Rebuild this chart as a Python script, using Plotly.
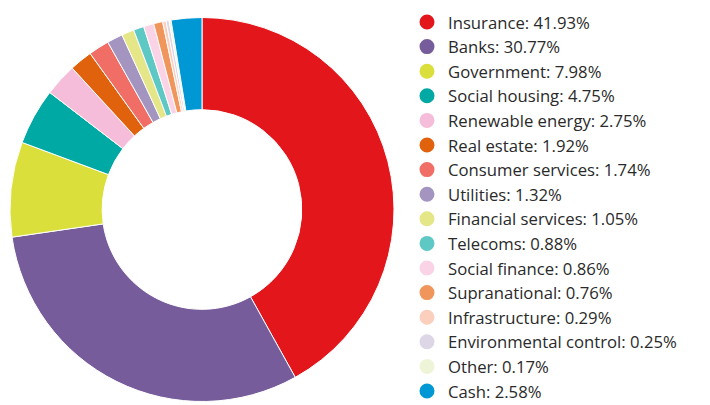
import plotly.graph_objects as go

categories = ["Insurance", "Banks", "Government", "Social housing", "Renewable energy",
              "Real estate", "Consumer services", "Utilities", "Financial services",
              "Telecoms", "Social finance", "Supranational", "Infrastructure",
              "Environmental control", "Other", "Cash"]
values = [41.93, 30.77, 7.98, 4.75, 2.75, 1.92, 1.74, 1.32, 1.05, 0.88, 0.86, 0.76,
          0.29, 0.25, 0.17, 2.58]
colors = ["#e3171b", "#765c9a", "#dadf3c", "#00a9a4", "#f5bdd9", "#e0620d", "#f06e66",
          "#a394c0", "#e4e687", "#5ec8c4", "#fad3e6", "#f0965c", "#fbcfbd", "#dcd6e7",
          "#eef4d8", "#0098d4"]

W, H = 710, 405
fig = go.Figure()
fig.add_trace(go.Pie(
    labels=categories, values=values, sort=False, direction="clockwise", rotation=0,
    hole=0.52, textinfo="none", showlegend=False,
    marker=dict(colors=colors, line=dict(color="white", width=1)),
    domain=dict(x=[10/W, 394/W], y=[3/H, 388/H]),
))

# legend drawn as circles + text
first_y, step = 22, 24.6
mx, mr, tx = 427, 7.5, 446
for i, (c, v, col) in enumerate(zip(categories, values, colors)):
    yc = first_y + i * step
    fig.add_shape(type="circle", xref="paper", yref="paper",
                  x0=(mx - mr) / W, x1=(mx + mr) / W,
                  y0=1 - (yc + mr) / H, y1=1 - (yc - mr) / H,
                  fillcolor=col, line=dict(width=0))
    fig.add_annotation(x=tx / W, y=1 - yc / H, xref="paper", yref="paper",
                       xanchor="left", yanchor="middle", showarrow=False,
                       text=f"{c}: {v:.2f}%",
                       font=dict(family="Open Sans", size=16.7, color="#2a2a2a"))

fig.update_layout(
    width=W, height=H, margin=dict(l=0, r=0, t=0, b=0),
    paper_bgcolor="white", plot_bgcolor="white", showlegend=False,
    font=dict(family="Open Sans", color="#2a2a2a"),
)
fig.write_html("out.html", config={"displayModeBar": False},
               post_script="document.body.style.margin='0';")
